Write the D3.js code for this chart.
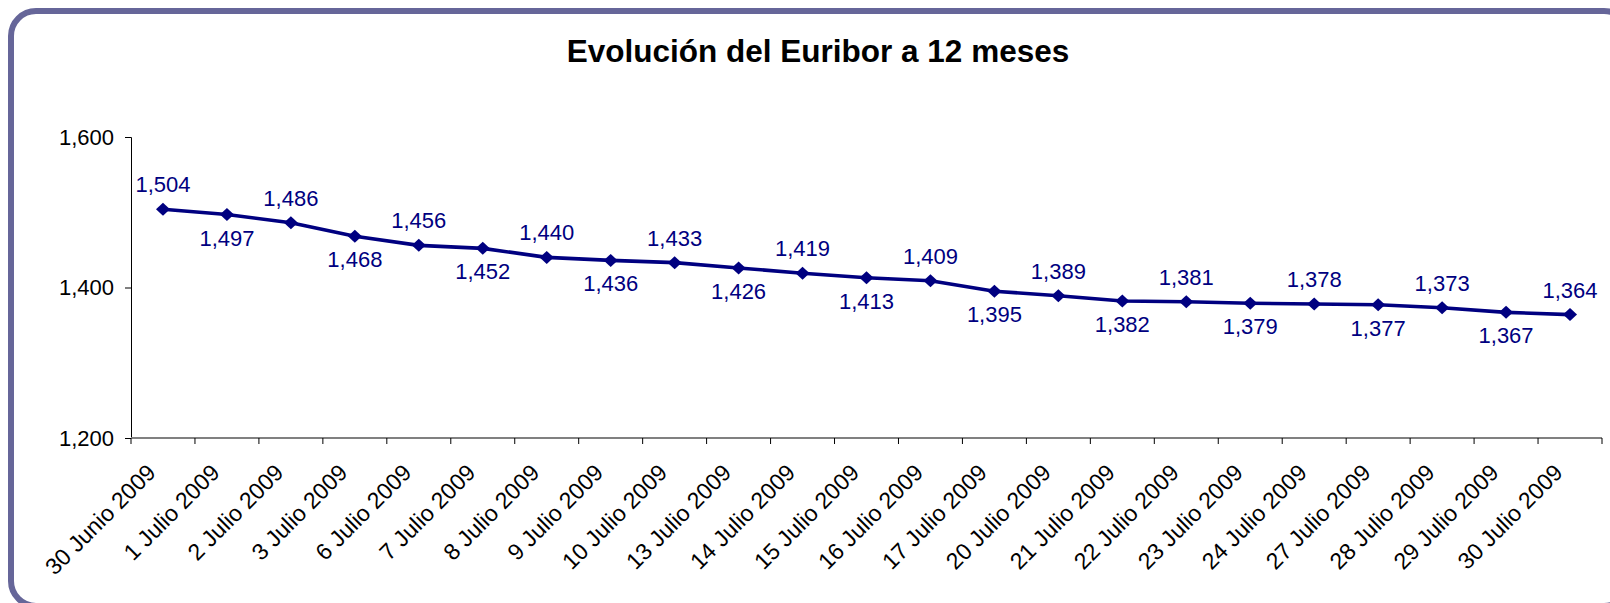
<!DOCTYPE html>
<html>
<head>
<meta charset="utf-8">
<script src="https://cdn.jsdelivr.net/npm/d3@7"></script>
<style>
  body { margin: 0; background: #fff; }
  svg { display: block; font-family: "Liberation Sans", Arial, sans-serif; }
</style>
</head>
<body>
<div id="chart"></div>
<script>

const title = "Evolución del Euribor a 12 meses";

const dates = [
  "30 Junio 2009", "1 Julio 2009", "2 Julio 2009", "3 Julio 2009", "6 Julio 2009",
  "7 Julio 2009", "8 Julio 2009", "9 Julio 2009", "10 Julio 2009", "13 Julio 2009",
  "14 Julio 2009", "15 Julio 2009", "16 Julio 2009", "17 Julio 2009", "20 Julio 2009",
  "21 Julio 2009", "22 Julio 2009", "23 Julio 2009", "24 Julio 2009", "27 Julio 2009",
  "28 Julio 2009", "29 Julio 2009", "30 Julio 2009"
];

const euribor = [
  1.504, 1.497, 1.486, 1.468, 1.456, 1.452, 1.440, 1.436, 1.433, 1.426, 1.419,
  1.413, 1.409, 1.395, 1.389, 1.382, 1.381, 1.379, 1.378, 1.377, 1.373, 1.367, 1.364
];

const yTicks = [1.2, 1.4, 1.6];

// spanish style numbers: 1,504
var es = d3.formatLocale({ decimal: ",", thousands: ".", grouping: [3], currency: ["", " €"] });
var fmt = es.format(".3f");

function drawChart(dom_id, elementWidth = 1610, elementHeight = 603) {

  var margin = { top: 137, right: 8, bottom: 165, left: 131 },
    width = elementWidth - margin.left - margin.right,
    height = elementHeight - margin.top - margin.bottom;

  var svg = d3.select(dom_id).append("svg")
    .attr("width", elementWidth)
    .attr("height", elementHeight);

  // rounded frame, runs off the right and bottom edge like the original
  svg.append("rect")
    .attr("x", 11)
    .attr("y", 11)
    .attr("width", elementWidth + 8)
    .attr("height", elementHeight - 8)
    .attr("rx", 25)
    .attr("fill", "#fff")
    .attr("stroke", "#666699")
    .attr("stroke-width", 6);

  svg.append("text")
    .attr("x", 818)
    .attr("y", 62)
    .attr("text-anchor", "middle")
    .style("font-size", "31.5px")
    .style("font-weight", "bold")
    .text(title);

  var g = svg.append("g")
    .attr("transform", "translate(" + margin.left + "," + margin.top + ")");

  var x = d3.scaleBand().domain(dates).range([0, width]);
  var y = d3.scaleLinear().domain([1.2, 1.6]).range([height, 0]);

  var series = dates.map(function (d, i) { return { date: d, value: euribor[i] }; });

  // y axis
  var yAxis = g.append("g")
    .call(d3.axisLeft(y).tickValues(yTicks).tickFormat(fmt).tickSize(6).tickPadding(11));
  yAxis.select(".domain").attr("stroke", "#000");
  yAxis.selectAll("text").style("font-size", "22px").attr("fill", "#000");

  // x axis, ticks sit between categories
  var xAxis = g.append("g")
    .attr("transform", "translate(0," + height + ")");
  xAxis.append("line")
    .attr("x1", 0).attr("x2", width)
    .attr("stroke", "#808080")
    .attr("stroke-width", 2);
  xAxis.selectAll(".tick")
    .data(dates.concat(["end"]))
    .enter().append("line")
    .attr("class", "tick")
    .attr("x1", function (d, i) { return i < dates.length ? x(d) : width; })
    .attr("x2", function (d, i) { return i < dates.length ? x(d) : width; })
    .attr("y1", 0).attr("y2", 6)
    .attr("stroke", "#000");
  xAxis.selectAll(".lbl")
    .data(dates)
    .enter().append("text")
    .attr("class", "lbl")
    .attr("text-anchor", "end")
    .attr("transform", function (d) {
      return "translate(" + (x(d) + x.bandwidth() / 2 - 6) + ",36) rotate(-45)";
    })
    .style("font-size", "23px")
    .text(function (d) { return d; });

  var cx = function (d) { return x(d.date) + x.bandwidth() / 2; };

  g.append("path")
    .datum(series)
    .attr("fill", "none")
    .attr("stroke", "#000080")
    .attr("stroke-width", 3.6)
    .attr("stroke-linejoin", "round")
    .attr("d", d3.line().x(cx).y(function (d) { return y(d.value); }));

  g.selectAll(".marker")
    .data(series)
    .enter().append("path")
    .attr("class", "marker")
    .attr("fill", "#000080")
    .attr("d", "M0,-6.5L7,0L0,6.5L-7,0Z")
    .attr("transform", function (d) { return "translate(" + cx(d) + "," + y(d.value) + ")"; });

  // labels alternate above / below the line
  g.selectAll(".val")
    .data(series)
    .enter().append("text")
    .attr("class", "val")
    .attr("text-anchor", "middle")
    .attr("x", cx)
    .attr("y", function (d, i) { return y(d.value) + (i % 2 == 0 ? -17 : 31); })
    .attr("fill", "#000080")
    .style("font-size", "22px")
    .text(function (d) { return fmt(d.value); });
}

drawChart("#chart");
</script>
</body>
</html>
